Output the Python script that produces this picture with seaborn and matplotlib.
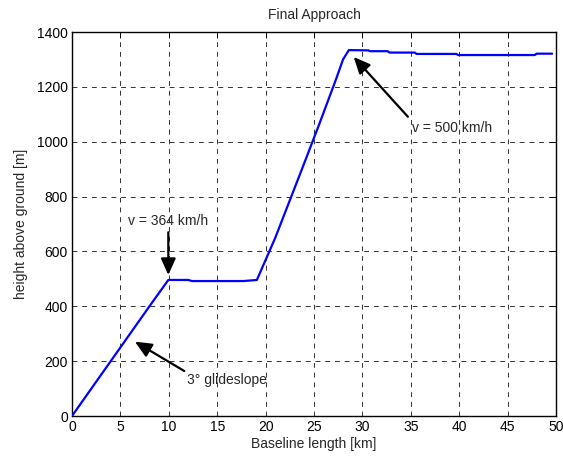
import matplotlib
matplotlib.use("Agg")
import matplotlib.pyplot as plt
import seaborn as sns
import pandas as pd

baseline_km = [0, 2, 4, 6, 8, 9.95, 12.0, 12.4, 17.7, 19.1, 21.0, 23.6, 25.5, 27.3,
               28.0, 28.6, 30.6, 30.8, 32.6, 32.8, 35.4, 35.6, 39.7, 39.9, 47.8, 48.0, 49.6]
height_m = [0, 100, 200, 300, 400, 496, 496, 492, 492, 496, 650, 886, 1060, 1230,
            1300, 1334, 1333, 1330, 1330, 1325, 1325, 1320, 1320, 1316, 1316, 1321, 1321]

x_ticks = [0, 5, 10, 15, 20, 25, 30, 35, 40, 45, 50]
y_ticks = [0, 200, 400, 600, 800, 1000, 1200, 1400]

df = pd.DataFrame({"x": baseline_km, "y": height_m})

sns.set_style("white")
plt.rcParams["font.family"] = ["Liberation Sans", "DejaVu Sans"]
plt.rcParams["font.size"] = 10

fig = plt.figure(figsize=(5.63, 4.59), dpi=100)
ax = fig.add_axes([72/563, 1 - 416/459, (556 - 72)/563, (416 - 32)/459])
ax.set_axisbelow(True)

sns.lineplot(data=df, x="x", y="y", ax=ax, sort=False, color=(0, 0, 1),
             linewidth=1.6, estimator=None, zorder=3)

ax.set_xlim(0, 50)
ax.set_ylim(0, 1400)
ax.set_xticks(x_ticks)
ax.set_yticks(y_ticks)
ax.grid(True, color="#303030", linestyle=(0, (5, 5)), linewidth=0.7)
ax.tick_params(direction="in", top=True, right=True, length=4, width=0.7,
               labelsize=10, colors="black", pad=3)
for s in ax.spines.values():
    s.set_color("black")
    s.set_linewidth(1.0)

ax.set_xlabel("Baseline length [km]", fontsize=10, labelpad=2)
ax.set_ylabel("height above ground [m]", fontsize=10, labelpad=6)
ax.set_title("Final Approach", fontsize=10, pad=9)

arrow = dict(arrowstyle="-|>,head_length=1.0,head_width=0.45", color="black",
             lw=1.6, shrinkA=0, shrinkB=0)
ax.annotate("", xy=(9.95, 514), xytext=(9.95, 670), arrowprops=arrow, zorder=5)
ax.text(9.95, 712, "v = 364 km/h", ha="center", va="center", fontsize=10)

ax.annotate("", xy=(6.5, 271), xytext=(11.6, 164), arrowprops=arrow, zorder=5)
ax.text(11.9, 131, "3° glideslope", ha="left", va="center", fontsize=10)

ax.annotate("", xy=(29.1, 1309), xytext=(34.7, 1091), arrowprops=arrow, zorder=5)
ax.text(35.15, 1050, "v = 500 km/h", ha="left", va="center", fontsize=10)

fig.savefig("out.png", dpi=100, facecolor="white")
